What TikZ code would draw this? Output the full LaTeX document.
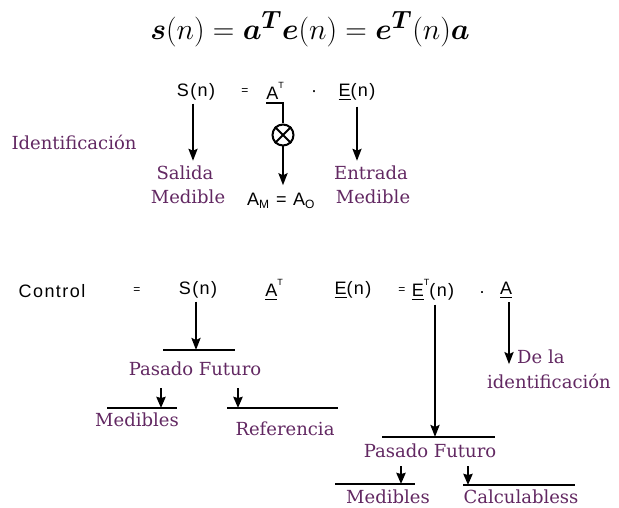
\documentclass[tikz,border=0pt]{standalone}
\usepackage{amsmath,bm}
\usepackage{fontspec}
\usetikzlibrary{arrows.meta}
\newfontfamily\pfont{DejaVu Serif}
\newfontfamily\sfontx[LetterSpace=8]{Liberation Sans}
\definecolor{purp}{RGB}{98,40,98}
\tikzset{
  lbl/.style={font=\pfont\fontsize{18}{20}\selectfont, text=purp, inner sep=0pt},
  sym/.style={font=\sfontx\fontsize{18}{20}\selectfont, inner sep=0pt},
  arr/.style={line width=2.3pt, -{Stealth[length=12pt,width=9pt,inset=2pt]}},
  sarr/.style={line width=2.6pt, -{Stealth[length=11pt,width=9pt,inset=1pt]}},
  bar/.style={line width=2pt},
}
\newcommand{\supT}{\raisebox{0.62em}{\fontsize{9}{9}\selectfont T}}
\begin{document}
\begin{tikzpicture}[x=1pt,y=-1pt]
\useasboundingbox (0,0) rectangle (619,508);
% equation
\node[inner sep=0pt, scale=1.2] (eq) at (310,29) {\fontsize{24.88}{30}\selectfont $\bm{s}(n) = \bm{a}^{\bm{T}}\bm{e}(n) = \bm{e}^{\bm{T}}(n)\bm{a}$};
% identification row
\node[sym] (S1) at (196,92) {S(n)};
\node[sym, font=\sfontx\fontsize{12}{12}\selectfont] (eqa) at (245,92) {=};
\node[sym] (AT1) at (275,91) {A\supT};
\node[sym] (dt1) at (314,94) {·};
\node[sym] (E1) at (357,92) {\underline{E}(n)};
\node[lbl] (ident) at (74,142) {Identificación};
\node[lbl] (sal) at (185,173) {Salida};
\node[lbl] (med1) at (188,197) {Medible};
\node[lbl] (ent) at (371,173) {Entrada};
\node[lbl] (med2) at (373,197) {Medible};
\node[circle, draw, line width=2pt, minimum size=21pt, inner sep=0pt] (mult) at (283,135) {};
\draw[line width=1.8pt] (mult.north west) -- (mult.south east) (mult.north east) -- (mult.south west);
\node[sym] (amao) at (281,201) {A\textsubscript{\fontsize{12}{12}\selectfont M} = A\textsubscript{\fontsize{12}{12}\selectfont O}};
\draw[arr, shorten >=5pt] ([xshift=-3pt,yshift=-3pt]S1.south) -- ([xshift=-3pt]S1.south |- sal.north);
\draw[arr, shorten >=5pt] ([yshift=-6pt]E1.south) -- (E1.south |- ent.north);
\draw[bar] ([yshift=-3pt]AT1.south west) -| (mult.north);
\draw[arr, shorten >=8pt] (mult.south) -- (mult.south |- amao.north);
% control row
\node[sym] (ctl) at (52,291) {Control};
\node[sym, font=\sfontx\fontsize{12}{12}\selectfont] (eqc) at (137,291) {=};
\node[sym] (S2) at (198,290) {S(n)};
\node[sym] (AT2) at (274,290) {\underline{A}\supT};
\node[sym] (E2) at (353,290) {\underline{E}(n)};
\node[sym, font=\sfontx\fontsize{12}{12}\selectfont] (eqc2) at (402,291) {=};
\node[sym] (ET2) at (433,290) {\underline{E}\supT(n)};
\node[sym] (dt2) at (482,293) {.};
\node[sym] (A2) at (506,290) {\underline{A}};
% S(n) branch
\coordinate (b1l) at (163,350);
\coordinate (b1r) at (235,350);
\draw[bar] (b1l) -- (b1r);
\draw[arr] ([xshift=-2pt,yshift=-3pt]S2.south) -- ([xshift=-2pt]S2.south |- b1l);
\node[lbl] (pf1) at (195,369) {Pasado Futuro};
\coordinate (m3l) at (107,408);
\coordinate (m3r) at (177,408);
\coordinate (r1l) at (227,408);
\coordinate (r1r) at (338,408);
\coordinate (s1t) at (161,388);
\coordinate (s2t) at (238,388);
\draw[bar] (m3l) -- (m3r);
\draw[bar] (r1l) -- (r1r);
\draw[sarr] (s1t) -- (s1t |- m3l);
\draw[sarr] (s2t) -- (s2t |- r1l);
\node[lbl] (med3) at (137,420) {Medibles};
\node[lbl] (ref) at (285,429) {Referencia};
% E^T branch
\coordinate (b2l) at (382,437);
\coordinate (b2r) at (495,437);
\draw[bar] (b2l) -- (b2r);
\draw[arr] ([xshift=2pt,yshift=-4pt]ET2.south) -- ([xshift=2pt]ET2.south |- b2l);
\node[lbl] (pf2) at (430,451) {Pasado Futuro};
\coordinate (m4l) at (335,484);
\coordinate (m4r) at (415,484);
\coordinate (c1l) at (463,485);
\coordinate (c1r) at (575,485);
\coordinate (s3t) at (401,466);
\coordinate (s4t) at (468,466);
\draw[bar] (m4l) -- (m4r);
\draw[bar] (c1l) -- (c1r);
\draw[sarr] (s3t) -- (s3t |- m4l);
\draw[sarr] (s4t) -- (s4t |- c1l);
\node[lbl] (med4) at (388,497) {Medibles};
\node[lbl] (calc) at (521,497) {Calculabless};
% A branch
\node[lbl, anchor=west] (dela) at (517,357) {De la};
\node[lbl] (idf) at (549,381) {identificación};
\draw[arr] ([xshift=3pt,yshift=-4pt]A2.south) -- ([xshift=3pt]A2.south |- dela.south);
\end{tikzpicture}
\end{document}
